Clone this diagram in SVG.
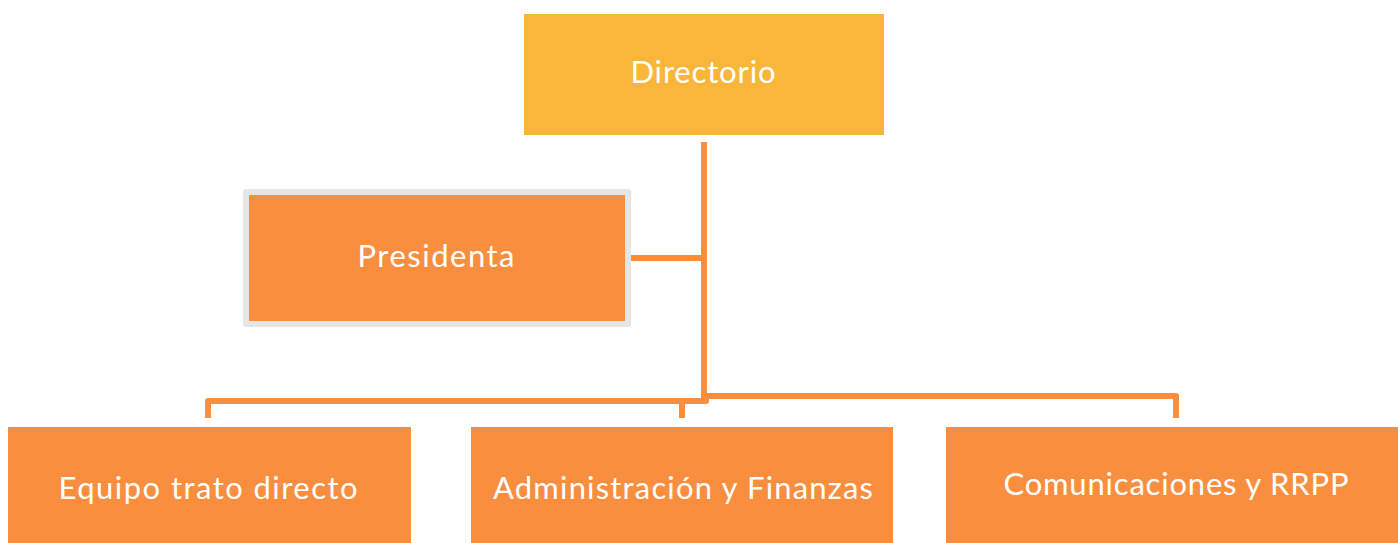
<svg xmlns="http://www.w3.org/2000/svg" width="1398" height="543" viewBox="0 0 1398 543">
<style>
.o{fill:#F98E3F}
.t{fill:#FFFFFF;font-family:Lato,"Noto Sans",sans-serif;font-size:31px;text-anchor:middle}
.c{fill:none;stroke:#F98E3F;stroke-width:6;stroke-linejoin:round}
</style>
<rect width="1398" height="543" fill="#FFFFFF"/>
<g id="connectors">
<path class="c" d="M704 142 V398"/>
<path class="c" d="M631 258 H704"/>
<path class="c" d="M208 418 V401 H706 V397"/>
<path class="c" d="M682 418 V401"/>
<path class="c" d="M704 396 H1176 V418"/>
</g>
<g id="directorio">
<rect x="524" y="14" width="360" height="121" fill="#F9B63A"/>
<text class="t" x="703" y="83" textLength="145" lengthAdjust="spacing">Directorio</text>
</g>
<g id="presidenta">
<rect x="243" y="189" width="388" height="138" rx="3" fill="#E6E6E6"/>
<rect class="o" x="249" y="195" width="376" height="126"/>
<text class="t" x="436" y="267" textLength="157" lengthAdjust="spacing">Presidenta</text>
</g>
<g id="equipo">
<rect class="o" x="8" y="427" width="403" height="116"/>
<text class="t" x="208" y="499" textLength="299" lengthAdjust="spacing">Equipo trato directo</text>
</g>
<g id="administracion">
<rect class="o" x="471" y="427" width="422" height="116"/>
<text class="t" x="683" y="499" textLength="380" lengthAdjust="spacing">Administración y Finanzas</text>
</g>
<g id="comunicaciones">
<rect class="o" x="946" y="427" width="452" height="116"/>
<text class="t" x="1176" y="495" textLength="345" lengthAdjust="spacing">Comunicaciones y RRPP</text>
</g>
</svg>
